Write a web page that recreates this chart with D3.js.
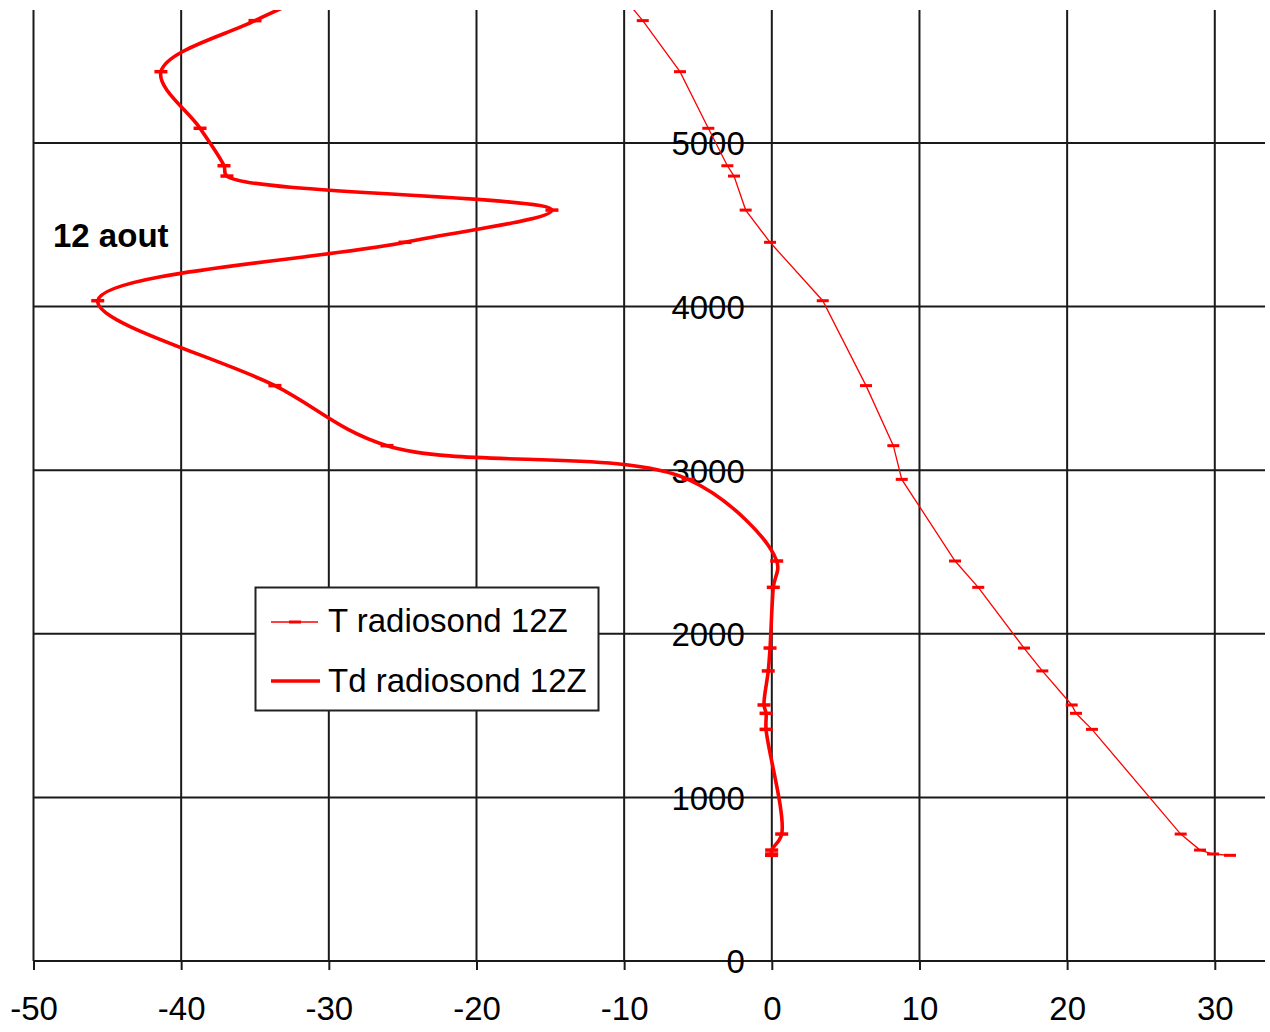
<!DOCTYPE html>
<html>
<head>
<meta charset="utf-8">
<script src="https://cdn.jsdelivr.net/npm/d3@7"></script>
<style>
  html, body { margin: 0; padding: 0; background: #fff; }
  svg { display: block; }
  text { font-family: "Liberation Sans", Arial, sans-serif; fill: #000; }
</style>
</head>
<body>
<svg id="chart" width="1270" height="1032"></svg>
<script>
// ---- data ----
const xTicks = [-50, -40, -30, -20, -10, 0, 10, 20, 30];
const xTickLabels = ["-50", "-40", "-30", "-20", "-10", "0", "10", "20", "30"];
const yTicks = [0, 1000, 2000, 3000, 4000, 5000];
const yTickLabels = ["0", "1000", "2000", "3000", "4000", "5000"];

// altitude (m) of the sounding levels
const heights = [5950, 5748, 5436, 5090, 4861, 4798, 4590, 4393, 4036, 3517, 3150, 2944,
                 2445, 2284, 1913, 1773, 1565, 1514, 1416, 776, 678, 654, 646];
// temperature (°C)
const tempT = [-10.6, -8.74, -6.22, -4.30, -3.01, -2.56, -1.77, -0.12, 3.45, 6.38, 8.23, 8.80,
               12.41, 13.98, 17.08, 18.32, 20.31, 20.60, 21.68, 27.69, 29.00, 29.88, 31.03];
// dew point (°C)
const tempTd = [-29.9, -35.0, -41.37, -38.72, -37.10, -36.90, -14.89, -24.84, -45.65, -33.65, -26.06, -5.67,
                0.33, 0.10, -0.12, -0.24, -0.53, -0.39, -0.39, 0.67, -0.01, -0.01, -0.02];

const seriesNames = ["T radiosond 12Z", "Td radiosond 12Z"];
const annotation = "12 aout";

// ---- layout ----
const svg = d3.select("#chart");
const pLeft = 33.5, pRight = 1265, pTop = 10, pBottom = 961;
const x = d3.scaleLinear().domain([-50, 33.4]).range([pLeft, pRight]);
const y = d3.scaleLinear().domain([0, 5813]).range([pBottom, pTop]);
const gridColor = "#1a1a1a";
const red = "#ff0000";
const fontSize = 33;

svg.append("defs").append("clipPath").attr("id", "plotclip")
  .append("rect").attr("x", pLeft).attr("y", pTop).attr("width", pRight - pLeft).attr("height", pBottom - pTop);

// grid
const grid = svg.append("g");
grid.selectAll("line.v").data(xTicks).join("line")
  .attr("x1", d => x(d)).attr("x2", d => x(d))
  .attr("y1", pTop).attr("y2", pBottom)
  .attr("stroke", gridColor).attr("stroke-width", 2);
grid.selectAll("line.h").data(yTicks.filter(d => d > 0)).join("line")
  .attr("x1", pLeft).attr("x2", pRight)
  .attr("y1", d => y(d)).attr("y2", d => y(d))
  .attr("stroke", gridColor).attr("stroke-width", 2);

// x axis
const xAxis = d3.axisBottom(x).tickValues(xTicks)
  .tickFormat((d, i) => xTickLabels[i])
  .tickSize(9).tickSizeOuter(0).tickPadding(26.5);
const gx = svg.append("g").attr("transform", `translate(0,${pBottom})`).call(xAxis);
gx.select(".domain").attr("stroke", gridColor).attr("stroke-width", 2)
  .attr("d", `M${pLeft},0H${pRight}`);
gx.selectAll(".tick line").attr("stroke", gridColor).attr("stroke-width", 2);
gx.selectAll(".tick text").attr("font-size", fontSize)
  .attr("font-family", "'Liberation Sans', Arial, sans-serif").attr("fill", "#000");

// y axis labels at x = 0
const yAxis = d3.axisLeft(y).tickValues(yTicks)
  .tickFormat((d, i) => yTickLabels[i])
  .tickSize(0).tickPadding(27);
const gy = svg.append("g").attr("transform", `translate(${x(0)},0)`).call(yAxis);
gy.select(".domain").remove();
gy.selectAll(".tick text").attr("font-size", fontSize).attr("dy", "0.36em")
  .attr("font-family", "'Liberation Sans', Arial, sans-serif").attr("fill", "#000");

// series
const plot = svg.append("g").attr("clip-path", "url(#plotclip)");
const ptsT = heights.map((h, i) => [tempT[i], h]);
const ptsTd = heights.map((h, i) => [tempTd[i], h]);

const lineT = d3.line().x(d => x(d[0])).y(d => y(d[1])).curve(d3.curveLinear);
const lineTd = d3.line().x(d => x(d[0])).y(d => y(d[1])).curve(d3.curveCatmullRom.alpha(0.5));

plot.append("path").attr("d", lineT(ptsT)).attr("fill", "none")
  .attr("stroke", red).attr("stroke-width", 1.3);
plot.selectAll("rect.mT").data(ptsT).join("rect")
  .attr("x", d => x(d[0]) - 6).attr("y", d => y(d[1]) - 1.5)
  .attr("width", 12).attr("height", 3).attr("fill", red);

plot.append("path").attr("d", lineTd(ptsTd)).attr("fill", "none")
  .attr("stroke", red).attr("stroke-width", 3.6).attr("stroke-linejoin", "round");
plot.selectAll("rect.mTd").data(ptsTd).join("rect")
  .attr("x", d => x(d[0]) - 6.5).attr("y", d => y(d[1]) - 1.75)
  .attr("width", 13).attr("height", 3.5).attr("fill", red);

// annotation
svg.append("text").attr("x", 53).attr("y", 247)
  .attr("font-size", fontSize).attr("font-weight", "bold").text(annotation);

// legend
const lg = svg.append("g");
lg.append("rect").attr("x", 255.5).attr("y", 587.5).attr("width", 343).attr("height", 123)
  .attr("fill", "#fff").attr("stroke", "#222").attr("stroke-width", 2);
lg.append("line").attr("x1", 271).attr("x2", 318).attr("y1", 622).attr("y2", 622)
  .attr("stroke", red).attr("stroke-width", 1.3);
lg.append("rect").attr("x", 289).attr("y", 620.5).attr("width", 12).attr("height", 3).attr("fill", red);
lg.append("line").attr("x1", 271).attr("x2", 320).attr("y1", 681).attr("y2", 681)
  .attr("stroke", red).attr("stroke-width", 3.6);
lg.append("text").attr("x", 328).attr("y", 632).attr("font-size", fontSize).text(seriesNames[0]);
lg.append("text").attr("x", 328).attr("y", 692).attr("font-size", fontSize).text(seriesNames[1]);
</script>
</body>
</html>
